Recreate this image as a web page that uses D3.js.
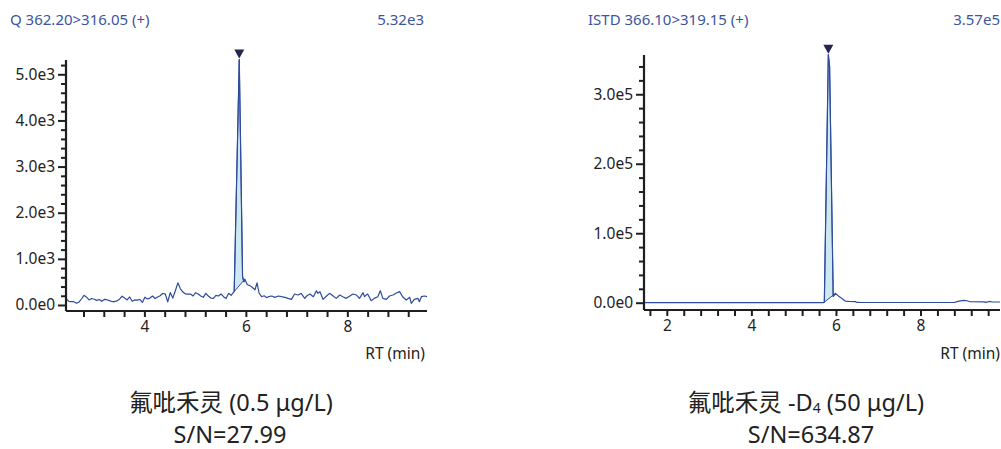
<!DOCTYPE html>
<html><head><meta charset="utf-8">
<script src="https://cdn.jsdelivr.net/npm/d3@7"></script>
<style>
html,body{margin:0;padding:0;background:#fff;}
svg{display:block;font-family:"Noto Sans","Noto Sans CJK SC",sans-serif;}
</style></head>
<body><svg id="c" width="1001" height="449"></svg>
<script>
// ---- Data ----
const leftTitle = "Q 362.20>316.05 (+)";
const leftMax = "5.32e3";
const rightTitle = "ISTD 366.10>319.15 (+)";
const rightMax = "3.57e5";
const xLabel = "RT (min)";

const leftTimes = [2.46,2.51,2.56,2.61,2.66,2.71,2.76,2.81,2.86,2.91,2.96,3.01,3.06,3.11,3.16,3.21,3.26,3.31,3.36,3.41,3.46,3.51,3.56,3.61,3.66,3.71,3.76,3.81,3.86,3.91,3.96,4.01,4.06,4.11,4.16,4.21,4.26,4.31,4.36,4.41,4.46,4.51,4.56,4.61,4.66,4.71,4.76,4.81,4.86,
 4.91,4.96,5.01,5.06,5.11,5.16,5.21,5.26,5.31,5.36,5.41,5.46,5.51,5.56,5.61,5.66,5.71,5.74,5.77,5.87,5.935,5.96,5.98,6.03,6.08,6.13,6.18,6.22,6.26,6.31,6.36,6.41,6.445,6.51,6.57,6.64,6.70,6.77,6.83,6.90,6.96,7.03,7.09,7.16,
 7.20,7.26,7.33,7.39,7.42,7.46,7.52,7.59,7.65,7.72,7.78,7.85,7.91,7.98,8.05,8.11,8.18,8.24,8.31,8.34,8.37,8.40,8.47,8.53,8.60,8.65,8.70,8.77,8.83,8.90,8.96,9.03,9.09,9.16,9.23,9.26,9.32,9.39,9.42,9.46,9.52,9.57];
const leftValues = [140,80,75,72,40,60,130,210,170,110,140,125,100,120,80,120,115,95,75,72,90,125,190,150,110,175,80,110,105,120,55,170,130,150,195,140,175,200,250,240,70,270,150,310,480,350,280,240,235,
 238,195,267,238,195,166,253,195,150,144,210,195,238,180,140,253,210,250,290,5320,620,500,560,440,420,380,330,480,260,180,200,160,180,195,166,195,180,166,144,123,238,216,253,144,
 195,238,180,310,253,289,123,195,253,195,144,216,180,144,195,238,216,144,267,180,216,238,94,144,180,310,144,123,195,216,253,289,180,108,166,36,123,144,72,180,195,180];
const leftPeak = {start: 5.77, apex: 5.87, end: 5.98};

const rightTimes = [1.46,5.70,5.725,5.82,5.85,5.935,5.99,6.06,6.14,6.22,6.30,6.46,6.50,6.60,8.80,8.86,8.95,9.02,9.10,9.17,9.50,9.55,9.62,9.70,9.88];
const rightValues = [0,0,800,357000,340000,9000,13500,9500,6000,2400,1800,1500,400,300,300,1500,2600,3400,2800,1400,1200,400,1800,1000,1000];
const rightPeak = {start: 5.725, apex: 5.82, end: 5.99};

const leftYTicks = [0,1000,2000,3000,4000,5000];
const leftYTickLabels = ["0.0e0","1.0e3","2.0e3","3.0e3","4.0e3","5.0e3"];
const rightYTicks = [0,100000,200000,300000];
const rightYTickLabels = ["0.0e0","1.0e5","2.0e5","3.0e5"];
const leftXTicks = [4,6,8];
const rightXTicks = [2,4,6,8];

const leftCaption = ["氟吡禾灵 (0.5 μg/L)", "S/N=27.99"];
const rightCaption = ["氟吡禾灵 -D", "4", " (50 μg/L)", "S/N=634.87"];

// ---- Drawing ----
const svg = d3.select("#c");
const lineColor = "#2e4c9c", fillColor = "#cde8f1", titleColor = "#3b55a0", axisColor = "#1e1e1e";

function panel(cfg){
  const x = d3.scaleLinear().domain(cfg.xDomain).range(cfg.xRange);
  const y = d3.scaleLinear().domain(cfg.yDomain).range(cfg.yRange);
  const g = svg.append("g");
  const data = cfg.times.map((t,i)=>[t, cfg.values[i]]);

  // titles
  g.append("text").attr("x", cfg.titleX).attr("y", 25).attr("fill", titleColor)
   .attr("font-size", 15).text(cfg.title);
  g.append("text").attr("x", cfg.maxX).attr("y", 25).attr("fill", titleColor)
   .attr("font-size", 15).attr("text-anchor","end").text(cfg.maxLabel);

  // peak fill
  const pk = cfg.peak;
  const inside = data.filter(d=>d[0]>=pk.start && d[0]<=pk.end);
  const poly = inside.concat([inside[0]]);
  g.append("path").datum(poly)
   .attr("d", d3.line().x(d=>x(d[0])).y(d=>y(d[1])))
   .attr("fill", fillColor).attr("stroke", lineColor).attr("stroke-width", 1).attr("stroke-linejoin","round");

  // trace
  g.append("path").datum(data)
   .attr("d", d3.line().x(d=>x(d[0])).y(d=>y(d[1])))
   .attr("fill","none").attr("stroke", lineColor).attr("stroke-width", 1.2).attr("stroke-linejoin","round");

  // apex marker
  const apex = data.find(d=>d[0]===pk.apex);
  const ax = x(apex[0]), ay = y(apex[1]);
  g.append("path").attr("d", d3.line()([[ax-5, ay-10],[ax+5, ay-10],[ax, ay-1]]) + "Z")
   .attr("fill", "#23264f");

  // y axis
  const yAxis = d3.axisLeft(y).tickValues(cfg.yTicks).tickSize(8).tickPadding(3)
    .tickFormat((d,i)=>cfg.yLabels[i]);
  const yg = g.append("g").attr("transform", `translate(${cfg.xRange[0]},0)`).call(yAxis);
  const yMinor = d3.axisLeft(y).tickValues(cfg.yMinor).tickSize(5).tickFormat("");
  const ym = g.append("g").attr("transform", `translate(${cfg.xRange[0]},0)`).call(yMinor);
  // x axis
  const xAxis = d3.axisBottom(x).tickValues(cfg.xMinor).tickSize(6).tickPadding(4)
    .tickFormat(d=> cfg.xTicks.some(v=>Math.abs(v-d)<1e-6) ? d3.format("d")(d) : "");
  const xg = g.append("g").attr("transform", `translate(0,${cfg.yRange[0]})`).call(xAxis);

  [yg, ym, xg].forEach(a=>{
    a.select(".domain").attr("stroke", axisColor).attr("stroke-width", 2.2);
    a.selectAll(".tick line").attr("stroke", axisColor).attr("stroke-width", 2);
    a.selectAll(".tick text").attr("fill", "#222").attr("font-size", 15.5).attr("font-family", "Noto Sans");
  });
  yg.select(".domain").attr("d", `M0,${cfg.yRange[0]}V${cfg.yRange[1]}`);
  ym.select(".domain").remove();
  xg.select(".domain").attr("d", `M${cfg.xRange[0]},0H${cfg.xRange[1]}`);

  g.append("text").attr("x", cfg.rtX).attr("y", 359).attr("text-anchor","end")
   .attr("fill","#222").attr("font-size",15.5).text(xLabel);
}

function seq(a,b,s){ const r=[]; for(let i=0;a+i*s<=b+1e-9;i++) r.push(+(a+i*s).toFixed(4)); return r; }

panel({
  title: leftTitle, maxLabel: leftMax, titleX: 10, maxX: 424,
  times: leftTimes, values: leftValues, peak: leftPeak,
  xDomain:[2.455, 9.57], xRange:[66, 427],
  yDomain:[-130, 5310], yRange:[311, 60],
  yTicks: leftYTicks, yLabels: leftYTickLabels, yMinor: seq(200, 5200, 200).filter(v=>v%1000!==0),
  xTicks: leftXTicks, xMinor: seq(2.8, 9.2, 0.4), rtX: 425
});
panel({
  title: rightTitle, maxLabel: rightMax, titleX: 588, maxX: 1000,
  times: rightTimes, values: rightValues, peak: rightPeak,
  xDomain:[1.46, 9.88], xRange:[644, 1000],
  yDomain:[-10500, 356500], yRange:[310, 55],
  yTicks: rightYTicks, yLabels: rightYTickLabels, yMinor: seq(20000, 340000, 20000).filter(v=>v%100000!==0),
  xTicks: rightXTicks, xMinor: seq(1.6, 9.6, 0.4), rtX: 1000
});

// captions
const cap = svg.append("g").attr("fill","#222").attr("font-size", 23.5).attr("text-anchor","middle");
cap.append("text").attr("x", 231).attr("y", 411).text(leftCaption[0]);
cap.append("text").attr("x", 230).attr("y", 443).text(leftCaption[1]);
const rc = cap.append("text").attr("x", 806).attr("y", 411);
rc.append("tspan").text(rightCaption[0]);
rc.append("tspan").attr("font-size", 14).attr("dy", 2).text(rightCaption[1]);
rc.append("tspan").attr("dy", -2).text(rightCaption[2]);
cap.append("text").attr("x", 811).attr("y", 443).text(rightCaption[3]);
</script></body></html>
